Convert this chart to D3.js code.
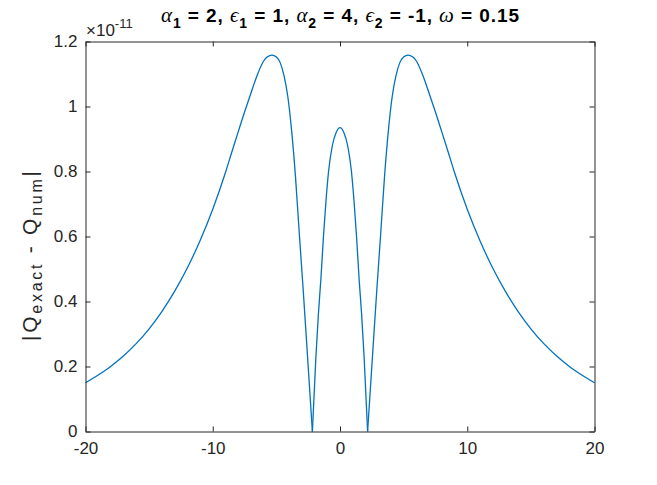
<!DOCTYPE html>
<html>
<head>
<meta charset="utf-8">
<script src="https://cdn.jsdelivr.net/npm/d3@7"></script>
<style>
  html, body { margin: 0; padding: 0; background: #fff; }
  svg { display: block; }
  text { font-family: "Liberation Sans", Arial, Helvetica, sans-serif; }
</style>
</head>
<body>
<div id="chart"></div>
<script>
// ---- data (values in units of 1e-11) ----
const xValues = [
  -20, -19, -18, -17, -16, -15, -14, -13, -12, -11, -10, -9, -8.5, -8, -7.5, -7, -6.5, -6, -5.7, -5.35, -5, -4.7, -4.4, -4.1, -3.8, -3.5, -3.2, -2.9, -2.6, -2.17,
  -1.9, -1.7, -1.5, -1.3, -1.1, -0.9, -0.6, -0.3, 0, 0.3, 0.6, 0.9, 1.1, 1.3, 1.5, 1.7, 1.9,
  2.17, 2.6, 2.9, 3.2, 3.5, 3.8, 4.1, 4.4, 4.7, 5, 5.35, 5.7, 6, 6.5, 7, 7.5, 8, 8.5, 9, 10, 11, 12, 13, 14, 15, 16, 17, 18, 19, 20
];
const errValues = [
  0.150, 0.174, 0.201, 0.233, 0.271, 0.316, 0.369, 0.431, 0.503, 0.587, 0.684, 0.797, 0.860, 0.922, 0.983, 1.041, 1.097, 1.140, 1.153, 1.158, 1.152, 1.135, 1.095, 1.030, 0.925, 0.785, 0.610, 0.440, 0.260, 0,
  0.225, 0.360, 0.470, 0.600, 0.710, 0.800, 0.880, 0.920, 0.935, 0.920, 0.880, 0.800, 0.710, 0.600, 0.470, 0.360, 0.225,
  0, 0.260, 0.440, 0.610, 0.785, 0.925, 1.030, 1.095, 1.135, 1.152, 1.158, 1.153, 1.140, 1.097, 1.041, 0.983, 0.922, 0.860, 0.797, 0.684, 0.587, 0.503, 0.431, 0.369, 0.316, 0.271, 0.233, 0.201, 0.174, 0.150
];
const xTicks = [-20, -10, 0, 10, 20];
const yTicks = [0, 0.2, 0.4, 0.6, 0.8, 1, 1.2];
const xTickLabels = ["-20", "-10", "0", "10", "20"];
const yTickLabels = ["0", "0.2", "0.4", "0.6", "0.8", "1", "1.2"];

// ---- layout ----
const W = 657, H = 485;
const mLeft = 85.5, mRight = 594.5, mTop = 41.5, mBottom = 431.5;
const axisColor = "#262626";
const lineColor = "#0072BD";

const svg = d3.select("#chart").append("svg")
  .attr("width", W).attr("height", H);

const x = d3.scaleLinear().domain([-20, 20]).range([mLeft, mRight]);
const y = d3.scaleLinear().domain([0, 1.2]).range([mBottom, mTop]);

// curve, split into lobes at the zeros
const pts = xValues.map((v, i) => [v, errValues[i]]);
const lobes = [];
let cur = [];
pts.forEach((p, i) => {
  cur.push(p);
  if (p[1] === 0 && i > 0 && i < pts.length - 1) {
    lobes.push(cur);
    cur = [p];
  }
});
lobes.push(cur);

const line = d3.line()
  .x(d => x(d[0]))
  .y(d => y(d[1]))
  .curve(d3.curveMonotoneX);

svg.append("g").selectAll("path").data(lobes).join("path")
  .attr("d", line)
  .attr("fill", "none")
  .attr("stroke", lineColor)
  .attr("stroke-width", 1.3)
  .attr("stroke-linejoin", "round");

// axes (MATLAB style: inward ticks, box on)
const tickLen = 5;
const fontSize = 17;

const xAxisB = d3.axisBottom(x).tickValues(xTicks).tickSizeInner(-tickLen).tickSizeOuter(0)
  .tickPadding(10).tickFormat((d, i) => xTickLabels[i]);
const gxb = svg.append("g").attr("transform", `translate(0,${mBottom})`).call(xAxisB);

const xAxisT = d3.axisTop(x).tickValues(xTicks).tickSizeInner(-tickLen).tickSizeOuter(0).tickFormat("");
const gxt = svg.append("g").attr("transform", `translate(0,${mTop})`).call(xAxisT);

const yAxisL = d3.axisLeft(y).tickValues(yTicks).tickSizeInner(-tickLen).tickSizeOuter(0)
  .tickPadding(8).tickFormat((d, i) => yTickLabels[i]);
const gyl = svg.append("g").attr("transform", `translate(${mLeft},0)`).call(yAxisL);

const yAxisR = d3.axisRight(y).tickValues(yTicks).tickSizeInner(-tickLen).tickSizeOuter(0).tickFormat("");
const gyr = svg.append("g").attr("transform", `translate(${mRight},0)`).call(yAxisR);

[gxb, gxt, gyl, gyr].forEach(g => {
  g.select(".domain").attr("stroke", axisColor).attr("stroke-width", 1);
  g.selectAll(".tick line").attr("stroke", axisColor).attr("stroke-width", 1);
  g.selectAll(".tick text").attr("fill", axisColor)
    .style("font-size", fontSize + "px")
    .style("font-family", "'Liberation Sans', Arial, sans-serif");
});

// exponent label
const ex = svg.append("text").attr("x", 86).attr("y", 36).attr("fill", axisColor)
  .style("font-size", "17px");
ex.append("tspan").text("×10");
ex.append("tspan").attr("dy", -8).style("font-size", "13px").text("-11");

// title
const title = svg.append("text")
  .attr("x", (mLeft + mRight) / 2).attr("y", 22)
  .attr("text-anchor", "middle")
  .attr("fill", "#000")
  .attr("textLength", 358).attr("lengthAdjust", "spacing")
  .style("font-size", "19px").style("font-weight", "bold");

function addPart(t, txt, opts = {}) {
  const ts = t.append("tspan").text(txt);
  if (opts.greek) {
    ts.style("font-family", "'Liberation Serif', 'DejaVu Serif', serif")
      .style("font-style", "italic").style("font-weight", "normal").style("font-size", "21px");
  }
  if (opts.sub) ts.style("font-size", "14px");
  if (opts.dy) ts.attr("dy", opts.dy);
  return ts;
}
addPart(title, "α", { greek: true });
addPart(title, "1", { sub: true, dy: 6 });
addPart(title, " = 2, ", { dy: -6 });
addPart(title, "ϵ", { greek: true });
addPart(title, "1", { sub: true, dy: 6 });
addPart(title, " = 1, ", { dy: -6 });
addPart(title, "α", { greek: true });
addPart(title, "2", { sub: true, dy: 6 });
addPart(title, " = 4, ", { dy: -6 });
addPart(title, "ϵ", { greek: true });
addPart(title, "2", { sub: true, dy: 6 });
addPart(title, " = -1, ", { dy: -6 });
addPart(title, "ω", { greek: true });
addPart(title, " = 0.15");

// y label
const yl = svg.append("text")
  .attr("transform", `translate(37,256) rotate(-90)`)
  .attr("text-anchor", "middle")
  .attr("fill", axisColor)
  .attr("textLength", 170).attr("lengthAdjust", "spacing")
  .style("font-size", "21px");
yl.append("tspan").text("|Q");
yl.append("tspan").attr("dy", 5).style("font-size", "16px").text("exact");
yl.append("tspan").attr("dy", -5).text(" - Q");
yl.append("tspan").attr("dy", 5).style("font-size", "16px").text("num");
yl.append("tspan").attr("dy", -5).text("|");
</script>
</body>
</html>
